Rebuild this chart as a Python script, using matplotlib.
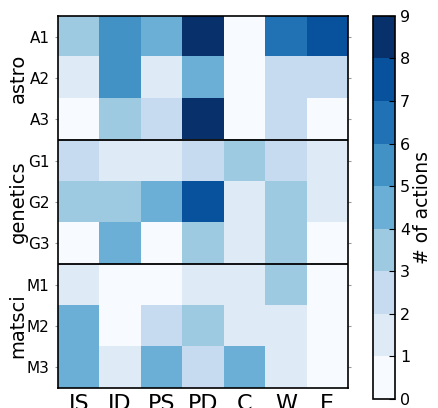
import numpy as np
import matplotlib
matplotlib.use("Agg")
import matplotlib.pyplot as plt
from matplotlib.colors import ListedColormap, BoundaryNorm

# actions per user (rows) and action type (columns)
actions = ["IS", "ID", "PS", "PD", "C", "W", "E"]
users = ["A1", "A2", "A3", "G1", "G2", "G3", "M1", "M2", "M3"]
groups = ["astro", "genetics", "matsci"]

astro = [[3, 5, 4, 8, 0, 6, 7],
         [1, 5, 1, 4, 0, 2, 2],
         [0, 3, 2, 8, 0, 2, 0]]
genetics = [[2, 1, 1, 2, 3, 2, 1],
            [3, 3, 4, 7, 1, 3, 1],
            [0, 4, 0, 3, 1, 3, 0]]
matsci = [[1, 0, 0, 1, 1, 3, 0],
          [4, 0, 2, 3, 1, 1, 0],
          [4, 1, 4, 2, 4, 1, 0]]

counts = np.array(astro + genetics + matsci)

blues9 = ["#f7fbff", "#deebf7", "#c6dbef", "#9ecae1", "#6baed6",
          "#4292c6", "#2171b5", "#08519c", "#08306b"]
cmap = ListedColormap(blues9)
norm = BoundaryNorm(np.arange(0, 10), cmap.N)

fig = plt.figure(figsize=(4.38, 4.08), dpi=100)
ax = fig.add_axes([0.1324, 0.049, 0.662, 0.912])
im = ax.imshow(counts, cmap=cmap, norm=norm, interpolation="nearest", aspect="auto")

ax.set_xticks(range(len(actions)))
ax.set_xticklabels(actions, fontsize=16)
ax.set_yticks(range(len(users)))
ax.set_yticklabels(users, fontsize=11)
ax.tick_params(axis="x", length=0, pad=4)
ax.tick_params(axis="y", length=0, pad=4)
ax.tick_params(axis="y", which="both", right=True, length=2, color="#999999")
for s in ax.spines.values():
    s.set_linewidth(1.2)

# separators between groups
for y in [2.5, 5.5]:
    ax.axhline(y, color="black", lw=1.3)

# group names on the left
for i, g in enumerate(groups):
    ax.text(-0.138, 1 - (i * 3 + 1.5) / 9, g, transform=ax.transAxes,
            rotation=90, ha="center", va="center", fontsize=14)

cax = fig.add_axes([0.8516, 0.022, 0.0502, 0.939])
cb = fig.colorbar(im, cax=cax, boundaries=np.arange(0, 10), ticks=range(10))
cb.ax.tick_params(labelsize=11.5, direction="in", length=4, width=0.8)
cb.outline.set_linewidth(1.2)
cb.set_label("# of actions", fontsize=13.5, labelpad=2)

fig.savefig("out.png", dpi=100)
